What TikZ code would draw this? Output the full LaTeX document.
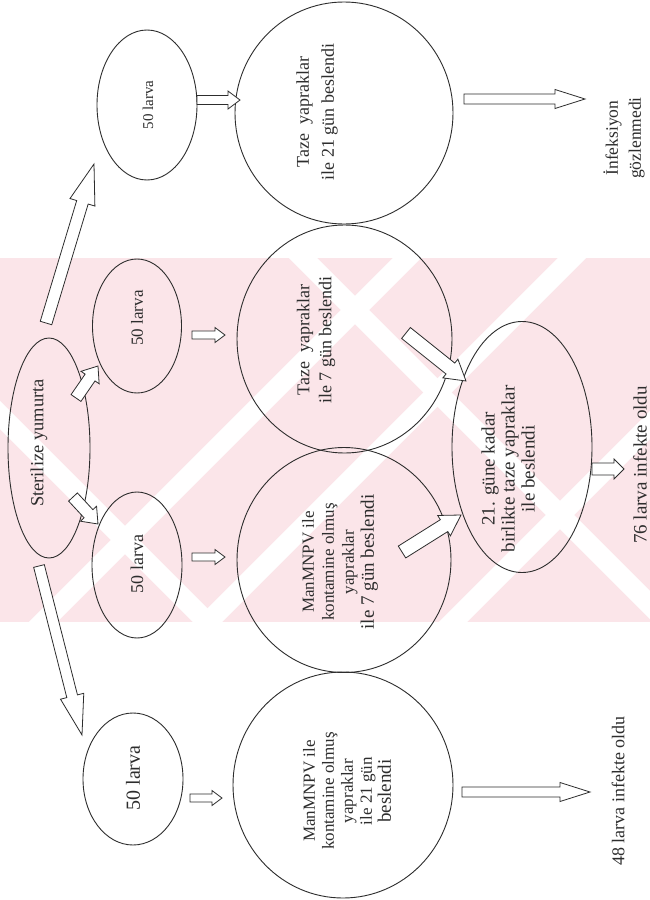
\documentclass[tikz,border=0pt]{standalone}
\usepackage{fontspec}
\setmainfont{Liberation Serif}
\usetikzlibrary{shapes.geometric,calc}
\definecolor{wm}{RGB}{251,229,233}
\definecolor{ink}{RGB}{45,45,45}
\tikzset{
  ell/.style={draw=ink, ellipse, line width=0.9pt, inner sep=0pt, outer sep=0pt},
  txt/.style={rotate=90, align=center, text=ink, inner sep=0pt},
  barrow/.style={draw=ink, fill=white, line width=0.8pt, line join=miter},
  stripe/.style={white, line width=20pt}
}
\newcommand{\blkarrow}[5]{%
  \coordinate (bh) at ($(#2)!#5pt!(#1)$);
  \draw[barrow] ($(#1)!#3pt!90:(#2)$) -- ($(bh)!#3pt!90:(#2)$) -- ($(bh)!#4pt!90:(#2)$) -- (#2)
    -- ($(bh)!#4pt!-90:(#2)$) -- ($(bh)!#3pt!-90:(#2)$) -- ($(#1)!#3pt!-90:(#2)$) -- cycle;
}
\begin{document}
\begin{tikzpicture}[x=1pt,y=-1pt]
\useasboundingbox (0,0) rectangle (650,900);
\fill[white] (0,0) rectangle (650,900);
% watermark band
\begin{scope}
  \clip (0,258) rectangle (650,622);
  \fill[wm] (0,258) rectangle (650,622);
  \foreach \c in {665,830,1075} {
    \draw[stripe] (\c-640,640) -- (\c-240,240);
  }
  \foreach \d in {415,-45} {
    \draw[stripe] (240-\d,240) -- (640-\d,640);
  }
\end{scope}

% shapes
\node[ell, minimum width=100, minimum height=150] (l1) at (147,105) {};
\node[ell, minimum width=218, minimum height=222] (c1) at (344,113) {};
\node[ell, minimum width=82, minimum height=220] (st) at (49,448) {};
\node[ell, minimum width=89, minimum height=134] (l2) at (137,326) {};
\node[ell, minimum width=215, minimum height=228] (c2) at (344.5,339) {};
\node[ell, minimum width=90, minimum height=146] (l3) at (137,565) {};
\node[ell, minimum width=214, minimum height=225] (c3) at (344,560) {};
\node[ell, minimum width=100, minimum height=132] (l4) at (133,779) {};
\node[ell, minimum width=220, minimum height=226] (c4) at (343,785) {};
\node[ell, minimum width=140, minimum height=251] (e21) at (522,447) {};

% texts
\node[txt, font=\fontsize{15}{18}\selectfont] (tl1) at (148,105) {50 larva};
\node[txt, font=\fontsize{18}{25}\selectfont] (tc1) at (317,112) {Taze~ yapraklar\\ile 21 gün beslendi};
\node[txt, font=\fontsize{17.5}{23}\selectfont] (tinf) at (624,138) {İnfeksiyon\\gözlenmedi};
\node[txt, font=\fontsize{18.5}{22}\selectfont] (tst) at (39,443) {Sterilize yumurta};
\node[txt, font=\fontsize{17}{20}\selectfont] (tl2) at (137,318) {50 larva};
\node[txt, font=\fontsize{18}{22}\selectfont] (tc2) at (316,340) {Taze~ yapraklar\\ile 7 gün beslendi};
\node[txt, font=\fontsize{18}{20}\selectfont] (tl3) at (137,564) {50 larva};
\node[txt, font=\fontsize{17}{20}\selectfont] (tc3) at (340,562) {ManMNPV ile\\kontamine olmuş\\yapraklar\\{\fontsize{19}{20}\selectfont ile 7 gün beslendi}};
\node[txt, font=\fontsize{20}{22}\selectfont] (tl4) at (133,778) {50 larva};
\node[txt, font=\fontsize{17}{19}\selectfont] (tc4) at (347,791) {ManMNPV ile\\kontamine olmuş\\yapraklar\\ile 21 gün\\{\fontsize{19}{19}\selectfont beslendi}};
\node[txt, font=\fontsize{18}{20}\selectfont] (t48) at (618,791) {48 larva infekte oldu};
\node[txt, font=\fontsize{19}{20}\selectfont] (t21) at (508,469) {21. güne kadar\\birlikte taze yapraklar\\ile beslendi};
\node[txt, font=\fontsize{19}{20}\selectfont] (t76) at (640,465) {76 larva infekte oldu};

% arrow end points
\coordinate (a1s) at (46,323);  \coordinate (a1t) at (94,164);
\coordinate (a2s) at (39,566);  \coordinate (a2t) at (82,735);
\coordinate (a3s) at (197,100); \coordinate (a3t) at (240,100);
\coordinate (a4s) at (464,99);  \coordinate (a4t) at (585,99);
\coordinate (a5s) at (76,398);  \coordinate (a5t) at (98,366);
\coordinate (a6s) at (73,497);  \coordinate (a6t) at (98,524);
\coordinate (a7s) at (192,335); \coordinate (a7t) at (225,335);
\coordinate (a8s) at (192,557); \coordinate (a8t) at (225,557);
\coordinate (a9s) at (190,798); \coordinate (a9t) at (222,798);
\coordinate (a10s) at (462,792); \coordinate (a10t) at (590,792);
\coordinate (a11s) at (406,333); \coordinate (a11t) at (466,381);
\coordinate (a12s) at (402,552); \coordinate (a12t) at (461,515);
\coordinate (a13s) at (592,469); \coordinate (a13t) at (624,469);

\blkarrow{a1s}{a1t}{6}{13}{40}
\blkarrow{a2s}{a2t}{5.5}{12}{40}
\blkarrow{a3s}{a3t}{4.5}{9}{12}
\blkarrow{a4s}{a4t}{5}{9.5}{30}
\blkarrow{a5s}{a5t}{6}{11}{14}
\blkarrow{a6s}{a6t}{6}{11}{14}
\blkarrow{a7s}{a7t}{4}{7.5}{10}
\blkarrow{a8s}{a8t}{4}{7.5}{10}
\blkarrow{a9s}{a9t}{4}{7.5}{10}
\blkarrow{a10s}{a10t}{5}{9.5}{30}
\blkarrow{a11s}{a11t}{7}{12}{20}
\blkarrow{a12s}{a12t}{7}{12}{20}
\blkarrow{a13s}{a13t}{6}{10}{10}
\end{tikzpicture}
\end{document}
